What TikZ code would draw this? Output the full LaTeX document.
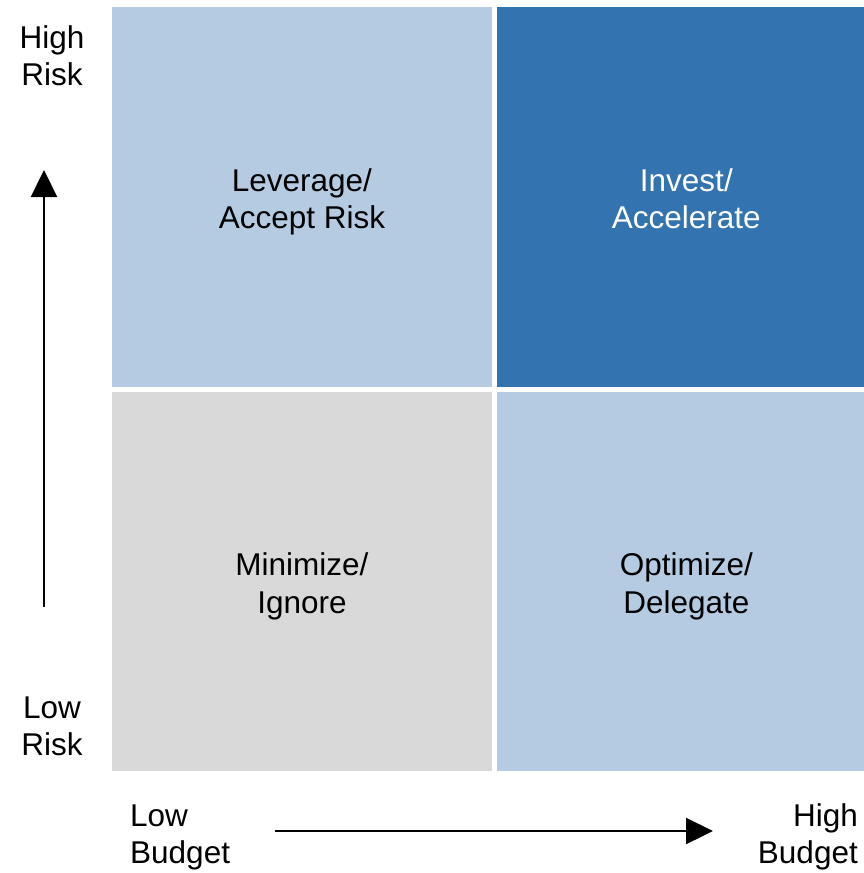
\documentclass[tikz,border=0pt]{standalone}
\usepackage{fontspec}
\setmainfont{Liberation Sans}
\usetikzlibrary{positioning,arrows.meta}
\definecolor{paleblue}{HTML}{B4CBE1}
\definecolor{deepblue}{HTML}{3373B0}
\definecolor{palegray}{HTML}{D9D9D9}
\newcommand{\toppad}{\rule{0pt}{33pt}}

\begin{document}
\begin{tikzpicture}[x=1pt, y=-1pt, >={Triangle[length=27pt,width=26pt]}, node distance=4.5pt]
    \tikzstyle{quad}=[rectangle,inner sep=0pt,minimum width=379.5pt,minimum height=379.5pt,align=center,font=\fontsize{31.5}{37.5}\selectfont]
    \tikzstyle{axislabel}=[inner sep=0pt,font=\fontsize{31.5}{37}\selectfont]
    \useasboundingbox (0,0) rectangle (864,873);
    \clip (0,0) rectangle (864,873);
    \node[quad,fill=paleblue,anchor=north west] (leverage) at (112,7) {\toppad Leverage/\\Accept Risk\vphantom{g}};
    \node[quad,fill=deepblue,text=white,right=of leverage] (invest) {\toppad Invest/\\Accelerate\vphantom{g}};
    \node[quad,fill=palegray,below=of leverage] (minimize) {\toppad Minimize/\\Ignore};
    \node[quad,fill=paleblue,below=of invest] (optimize) {\toppad Optimize/\\Delegate};
    \node[axislabel,align=center] (highrisk) at (52,56) {High\\Risk};
    \node[axislabel,align=center] (lowrisk) at (52,726) {Low\\Risk};
    \node[axislabel,align=left,anchor=west] (lowbudget) at (130,837) {Low\\Budget};
    \node[axislabel,align=right,anchor=east] (highbudget) at (858,837) {High\\Budget};
    \coordinate (riskfoot) at (44,607);
    \coordinate (risktip) at (44,170);
    \coordinate (budgetfoot) at (275,831);
    \coordinate (budgettip) at (713,831);
    \draw[->,line width=2.3pt] (riskfoot) -- (risktip);
    \draw[->,line width=2.3pt] (budgetfoot) -- (budgettip);
  \end{tikzpicture}
\end{document}
